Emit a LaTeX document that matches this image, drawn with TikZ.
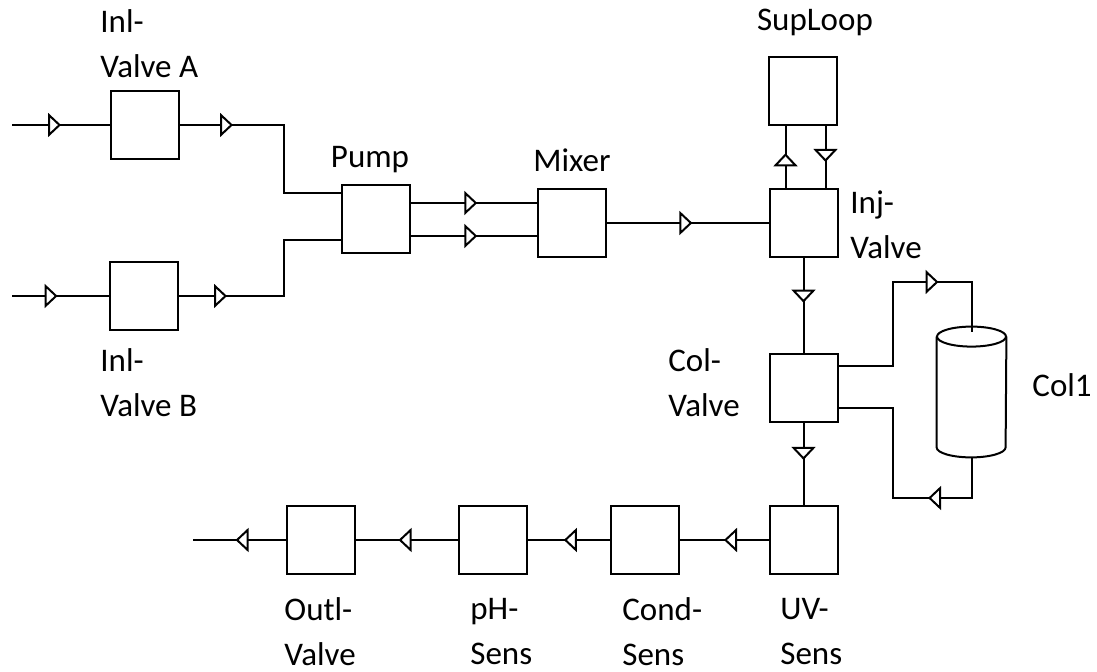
\documentclass[tikz,border=0pt]{standalone}
\usepackage{fontspec}
\setmainfont{Carlito}
\usetikzlibrary{arrows.meta,decorations.markings}
\tikzset{
    unit/.style={draw, line width=1pt, minimum width=34pt, minimum height=34pt, inner sep=0pt},
    pipe/.style={line width=1pt},
    flowat/.style={postaction={decorate}, decoration={markings,
        mark=at position #1 with {\arrow[line width=1pt]{Triangle[open, fill=white, length=6.5pt, width=12pt]}}}},
    lbl/.style={font=\fontsize{16.5}{22.5}\selectfont, align=left, inner sep=0pt}
}
\begin{document}
\begin{tikzpicture}[x=0.5pt, y=-0.5pt]
    \useasboundingbox (0,0) rectangle (1097,672);
    % units
    \node[unit] (inA) at (145,125) {};
    \node[unit] (inB) at (144,296) {};
    \node[unit] (pump) at (375.5,219) {};
    \node[unit] (mixer) at (571.5,223) {};
    \node[unit] (suploop) at (802.5,91) {};
    \node[unit] (inj) at (803.5,223) {};
    \node[unit] (colv) at (803.5,388) {};
    \node[unit] (uv) at (803.5,540) {};
    \node[unit] (cond) at (644.5,540) {};
    \node[unit] (ph) at (493,540) {};
    \node[unit] (outl) at (320.5,540) {};
    % column body
    \node[minimum width=34.5pt, minimum height=65pt, inner sep=0pt] (col) at (971.5,392) {};
    \draw[pipe] ([yshift=-5pt]col.north) ellipse [x radius=17.25pt, y radius=5pt];
    \draw[pipe] ([yshift=-5pt]col.north west) -- ([yshift=5pt]col.south west)
        arc[start angle=180, end angle=360, x radius=17.25pt, y radius=5pt]
        -- ([yshift=-5pt]col.north east);
    % labels
    \node[lbl, anchor=west] (inAlbl) at (100,44) {Inl-\\Valve A};
    \node[lbl, anchor=west] (inBlbl) at (100,383) {Inl-\\Valve B};
    \node[lbl] (pumplbl) at (370,160) {Pump};
    \node[lbl] (mixerlbl) at (572,160) {Mixer};
    \node[lbl] (suplbl) at (815,22) {SupLoop};
    \node[lbl, anchor=west] (injlbl) at (850,225) {Inj-\\Valve};
    \node[lbl, anchor=west] (colvlbl) at (668,383) {Col-\\Valve};
    \node[lbl, anchor=west] (collbl) at (1032,385) {Col1};
    \node[lbl, anchor=west] (uvlbl) at (780,632) {UV-\\Sens};
    \node[lbl, anchor=west] (condlbl) at (622,632) {Cond-\\Sens};
    \node[lbl, anchor=west] (phlbl) at (470,632) {pH-\\Sens};
    \node[lbl, anchor=west] (outllbl) at (284,632) {Outl-\\Valve};
    % free ends and corners
    \coordinate (srcA) at (12,125);
    \coordinate (srcB) at (12,296);
    \coordinate (jA) at (284,125);
    \coordinate (jB) at (284,296);
    \coordinate (cA) at (893,282);
    \coordinate (cB) at (893,498);
    \coordinate (drain) at (193,540);
    % inlet side
    \draw[pipe, flowat=0.5] (srcA) -- (inA);
    \draw[pipe, flowat=0.47] (srcB) -- (inB);
    \draw[pipe, flowat=26.5pt] (inA.east) -- (jA) |- ([yshift=13pt]pump.west);
    \draw[pipe, flowat=24pt] (inB.east) -- (jB) |- ([yshift=-10.5pt]pump.west);
    \draw[pipe, flowat=0.53] ([yshift=8pt]pump.east) -- ([yshift=8pt]pump.east -| mixer.west);
    \draw[pipe, flowat=0.53] ([yshift=-8.5pt]pump.east) -- ([yshift=-8.5pt]pump.east -| mixer.west);
    \draw[pipe, flowat=0.53] (mixer) -- (inj);
    % sample loop
    \draw[pipe, flowat=0.56] ([xshift=-9pt]inj.north) -- ([xshift=-9pt]inj.north |- suploop.south);
    \draw[pipe, flowat=0.58] ([xshift=11pt]inj.north |- suploop.south) -- ([xshift=11pt]inj.north);
    % column
    \draw[pipe, flowat=0.47] (inj) -- (colv);
    \draw[pipe, flowat=92pt] ([yshift=11pt]colv.east) -| (cA) -| ([yshift=-2.5pt]col.north);
    \draw[pipe, flowat=42pt] (col.south) |- (cB) |- ([yshift=-10pt]colv.east);
    \draw[pipe, flowat=0.45] (colv) -- (uv);
    % outlet side
    \draw[pipe, flowat=0.5] (uv) -- (cond);
    \draw[pipe, flowat=0.56] (cond) -- (ph);
    \draw[pipe, flowat=0.58] (ph) -- (outl);
    \draw[pipe, flowat=0.54] (outl) -- (drain);
\end{tikzpicture}
\end{document}
